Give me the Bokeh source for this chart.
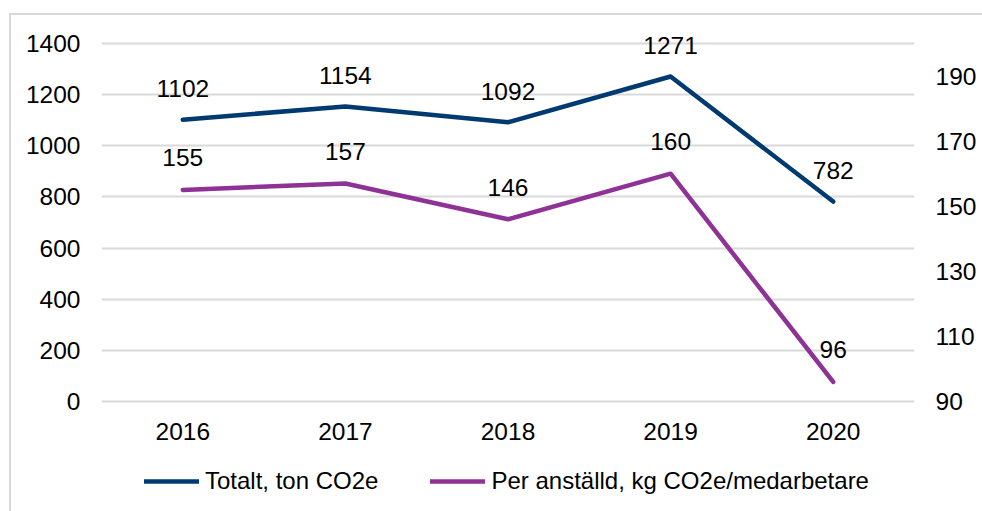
from bokeh.plotting import figure
from bokeh.models import LinearAxis, Range1d, Legend, LegendItem, ColumnDataSource, FixedTicker
from bokeh.core.properties import value
from bokeh.embed import file_html
from bokeh.resources import INLINE

years = ["2016", "2017", "2018", "2019", "2020"]
total = [1102, 1154, 1092, 1271, 782]
per_employee = [155, 157, 146, 160, 96]
left_ticks = [0, 200, 400, 600, 800, 1000, 1200, 1400]
right_ticks = [90, 110, 130, 150, 170, 190]

NAVY = "#003A70"
PURPLE = "#8E3296"
FONT = "Liberation Sans"
FS = "24.5px"
LEG_FS = "24px"

# layout (pixels): frame spans the full height; axes 0..1400 / 90..200 occupy y 43..401
W, H = 982, 511
Y_ZERO, Y_TOP = 401, 43
span = Y_ZERO - Y_TOP
l_lo, l_hi = 0, 1400
r_lo, r_hi = 90, 200
lk = (l_hi - l_lo) / span
rk = (r_hi - r_lo) / span
left_range = Range1d(l_lo - (H - Y_ZERO) * lk, l_lo + Y_ZERO * lk)
right_range = Range1d(r_lo - (H - Y_ZERO) * rk, r_lo + Y_ZERO * rk)

src = ColumnDataSource(dict(
    x=years, total=total, per=per_employee,
    tl=[str(v) for v in total], pl=[str(v) for v in per_employee],
    zero=[0] * len(years),
))

p = figure(width=W, height=H, x_range=years, y_range=left_range,
           output_backend="svg", toolbar_location=None, x_axis_location=None,
           min_border_left=101, min_border_right=68, min_border_top=0, min_border_bottom=0)
p.extra_y_ranges = {"right": right_range}
p.outline_line_color = None
p.background_fill_alpha = 0
p.border_fill_alpha = 0
p.styles = {
    "background": "linear-gradient(#d9d9d9, #d9d9d9) 9px 13px / 2px calc(100% - 13px) no-repeat, "
                  "linear-gradient(#d9d9d9, #d9d9d9) 9px 13px / calc(100% - 9px) 2px no-repeat, white"
}

p.xgrid.grid_line_color = None
p.ygrid.grid_line_color = "#d9d9d9"
p.ygrid.grid_line_width = 2
p.ygrid.ticker = FixedTicker(ticks=left_ticks)

p.yaxis[0].ticker = FixedTicker(ticks=left_ticks)

ra = LinearAxis(y_range_name="right", ticker=FixedTicker(ticks=right_ticks))
p.add_layout(ra, "right")

for ax in [p.yaxis[0], ra]:
    ax.axis_line_color = None
    ax.major_tick_line_color = None
    ax.minor_tick_line_color = None
    ax.major_tick_out = 0
    ax.major_tick_in = 0
    ax.major_label_text_font = FONT
    ax.major_label_text_font_size = FS
    ax.major_label_text_color = "#000000"
p.yaxis[0].major_label_standoff = 21
ra.major_label_standoff = 21

# category labels under the zero line
p.text("x", "zero", text="x", source=src, text_align="center", text_baseline="middle",
       y_offset=30, text_font=value(FONT), text_font_size=FS, text_color="#000000")

r1 = p.line("x", "total", source=src, line_color=NAVY, line_width=4.5, line_cap="round", line_join="round")
r2 = p.line("x", "per", source=src, y_range_name="right", line_color=PURPLE, line_width=4.5,
            line_cap="round", line_join="round")

p.text("x", "total", text="tl", source=src, text_align="center", text_baseline="middle",
       y_offset=-31, text_font=value(FONT), text_font_size=FS, text_color="#000000")
p.text("x", "per", text="pl", source=src, y_range_name="right", text_align="center",
       text_baseline="middle", y_offset=-32, text_font=value(FONT), text_font_size=FS,
       text_color="#000000")

legend = Legend(items=[LegendItem(label="Totalt, ton CO2e", renderers=[r1]),
                       LegendItem(label="Per anställd, kg CO2e/medarbetare", renderers=[r2])],
                orientation="horizontal", location=(43, 16),
                label_text_font=FONT, label_text_font_size=LEG_FS, label_text_color="#000000",
                glyph_width=55, glyph_height=20, label_standoff=6, spacing=52,
                border_line_color=None, background_fill_alpha=0, margin=0, padding=6)
p.add_layout(legend, "center")

open("out.html", "w").write(file_html(p, INLINE))
